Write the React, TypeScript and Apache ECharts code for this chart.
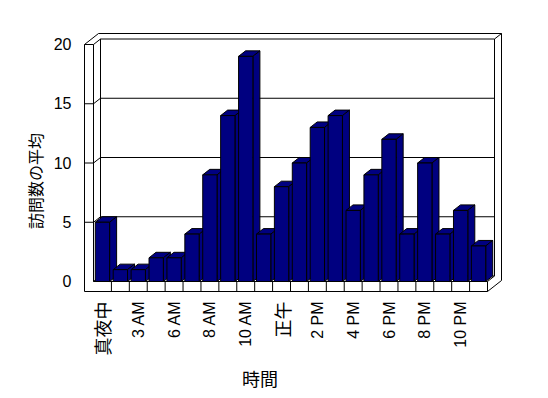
import React, { useEffect, useRef } from "react";
import * as echarts from "echarts";

const categories = [
  "真夜中", "1 AM", "3 AM", "4 AM", "6 AM", "7 AM", "8 AM", "9 AM", "10 AM", "11 AM",
  "正午", "1 PM", "2 PM", "3 PM", "4 PM", "5 PM", "6 PM", "7 PM", "8 PM", "9 PM", "10 PM", "11 PM",
];
const visits = [5, 1, 1, 2, 2, 4, 9, 14, 19, 4, 8, 10, 13, 14, 6, 9, 12, 4, 10, 4, 6, 3];
const yTicks = [0, 5, 10, 15, 20];

const DX = 7;
const DY = -5.5;
const WALL = 9;
const FLOOR = 10;
const NAVY = "#000080";
const LATIN = "'Liberation Sans', Arial, sans-serif";
const CJK = "'Noto Sans CJK JP', sans-serif";

export default function App() {
  const ref = useRef<HTMLDivElement>(null);
  useEffect(() => {
    if (!ref.current) return;
    const chart = echarts.init(ref.current, null, { renderer: "svg" });
    const n = categories.length;
    const line = (x1: number, y1: number, x2: number, y2: number) => ({
      type: "line",
      shape: { x1, y1, x2, y2 },
      style: { stroke: "#000", lineWidth: 1, fill: null },
    });

    chart.setOption({
      animation: false,
      backgroundColor: "#fff",
      grid: { left: 93.5, right: 60.5, top: 44.5, bottom: 116.5 },
      xAxis: {
        type: "category",
        data: categories,
        boundaryGap: true,
        axisLine: { show: false },
        axisTick: { show: false },
        splitLine: { show: false },
        axisLabel: {
          interval: 1,
          rotate: 90,
          margin: 20,
          color: "#000",
          formatter: (val: string) =>
            /[\u3000-\u9fff]/.test(val) ? `{j|${val}}` : `{l|${val}}`,
          rich: {
            j: { fontSize: 18, fontFamily: CJK, color: "#000" },
            l: { fontSize: 16, fontFamily: LATIN, color: "#000" },
          },
        },
      },
      yAxis: {
        type: "value",
        min: 0,
        max: 20,
        interval: 5,
        axisLine: { show: false },
        axisTick: { show: false },
        splitLine: { show: false },
        axisLabel: { margin: 22, color: "#000", fontSize: 16, fontFamily: LATIN },
      },
      graphic: [
        {
          type: "text",
          x: 260,
          y: 378,
          style: {
            text: "時間",
            fontSize: 18,
            fontFamily: CJK,
            fill: "#000",
            textAlign: "center",
            textVerticalAlign: "middle",
            verticalAlign: "middle",
          },
        },
        {
          type: "text",
          x: 34.5,
          y: 181,
          rotation: Math.PI / 2,
          style: {
            text: "訪問数の平均",
            fontSize: 16,
            fontFamily: CJK,
            fill: "#000",
            textAlign: "center",
            textVerticalAlign: "middle",
            verticalAlign: "middle",
          },
        },
      ],
      series: [
        {
          type: "custom",
          silent: true,
          z: 1,
          data: yTicks.map((v) => [0, v]),
          renderItem: (params: any, api: any) => {
            const v = api.value(1);
            const w = api.size([1, 0])[0];
            const xL = api.coord([0, 0])[0] - w / 2;
            const xR = api.coord([n - 1, 0])[0] + w / 2;
            const y = api.coord([0, v])[1];
            const y0 = api.coord([0, 0])[1];
            const y20 = api.coord([0, yTicks[yTicks.length - 1]])[1];
            const children: any[] = [
              line(xL + DX, y + DY, xR + DX, y + DY),
              line(xL, y, xL + DX, y + DY),
            ];
            if (v !== 0) children.push(line(xL - WALL, y, xL, y));
            if (params.dataIndex === 0) {
              const yb = y0 + FLOOR;
              children.push(
                line(xL - WALL, y20, xL - WALL, yb),
                line(xL, y20, xL, y0),
                line(xL, y0, xR, y0),
                line(xL - WALL, yb, xR, yb),
                line(xR, y0, xR, yb),
                line(xR, y0, xR + DX, y0 + DY),
                line(xR, yb, xR + 2 * DX, yb + 2 * DY),
                line(xL + DX, y20 + DY, xL + DX, y0 + DY),
                line(xR + DX, y20 + DY, xR + DX, y0 + DY),
                line(xL - WALL, y20, xL - WALL + 2 * DX, y20 + 2 * DY),
                line(xL - WALL + 2 * DX, y20 + 2 * DY, xR + 2 * DX, y20 + 2 * DY),
                line(xR + DX, y20 + DY, xR + 2 * DX, y20 + 2 * DY),
                line(xR + 2 * DX, y20 + 2 * DY, xR + 2 * DX, yb + 2 * DY)
              );
              for (let k = 1; k < n; k++) {
                const x = xL + k * w;
                children.push(line(x, y0, x, yb));
              }
            }
            return { type: "group", children };
          },
        },
        {
          type: "custom",
          silent: true,
          z: 2,
          data: visits.map((v, i) => [i, v]),
          renderItem: (params: any, api: any) => {
            const i = api.value(0);
            const v = api.value(1);
            const base = api.coord([i, 0]);
            const top = api.coord([i, v]);
            const bw = api.size([1, 0])[0] * 0.8;
            const x0 = base[0] - bw / 2;
            const x1 = base[0] + bw / 2;
            const yT = top[1];
            const yB = base[1];
            const st = { fill: NAVY, stroke: "#000", lineWidth: 1 };
            return {
              type: "group",
              children: [
                {
                  type: "polygon",
                  shape: { points: [[x0, yT], [x1, yT], [x1 + DX, yT + DY], [x0 + DX, yT + DY]] },
                  style: st,
                },
                {
                  type: "polygon",
                  shape: { points: [[x1, yT], [x1 + DX, yT + DY], [x1 + DX, yB + DY], [x1, yB]] },
                  style: st,
                },
                {
                  type: "rect",
                  shape: { x: x0, y: yT, width: bw, height: yB - yT },
                  style: st,
                },
              ],
            };
          },
        },
      ],
    });
    return () => chart.dispose();
  }, []);

  return (
    <div
      ref={ref}
      style={{ position: "fixed", left: 0, top: 0, width: 548, height: 398, background: "#fff" }}
    />
  );
}
